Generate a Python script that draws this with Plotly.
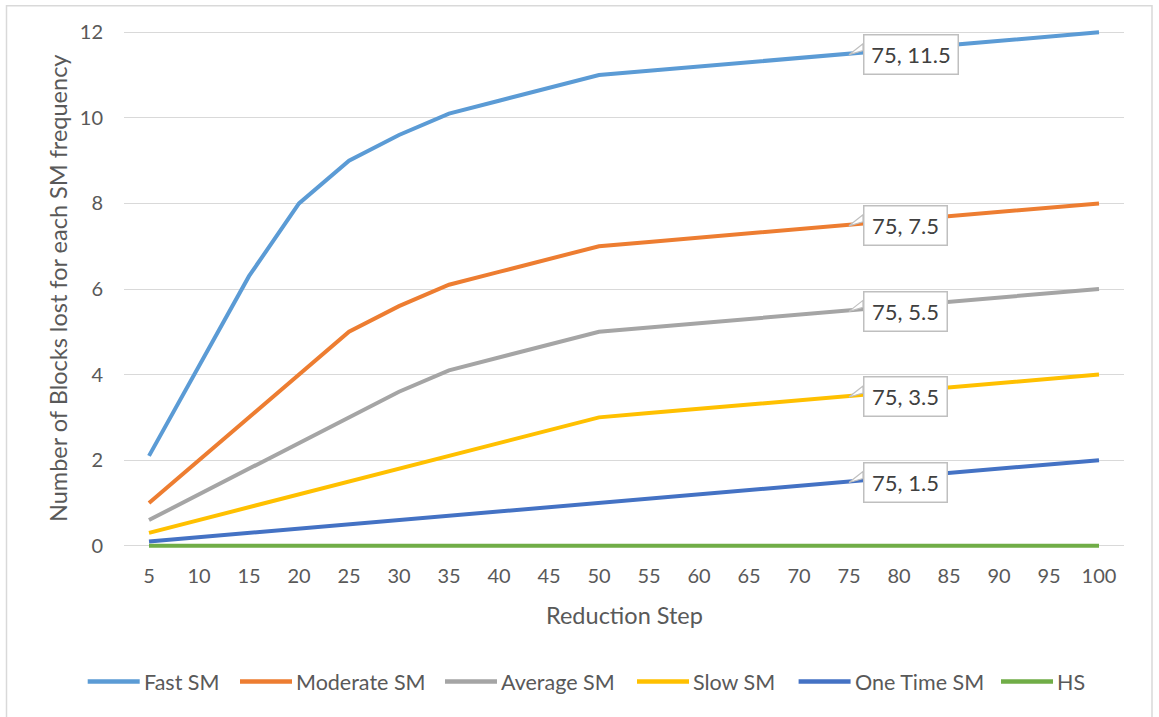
import plotly.graph_objects as go

# Reduction steps on the category axis
steps = [5, 10, 15, 20, 25, 30, 35, 40, 45, 50, 55, 60, 65, 70, 75, 80, 85, 90, 95, 100]

# Blocks lost per SM frequency class
fast_sm = [2.1, 4.2, 6.3, 8.0, 9.0, 9.6, 10.1, 10.4, 10.7, 11.0,
           11.1, 11.2, 11.3, 11.4, 11.5, 11.6, 11.7, 11.8, 11.9, 12.0]
moderate_sm = [1.0, 2.0, 3.0, 4.0, 5.0, 5.6, 6.1, 6.4, 6.7, 7.0,
               7.1, 7.2, 7.3, 7.4, 7.5, 7.6, 7.7, 7.8, 7.9, 8.0]
average_sm = [0.6, 1.2, 1.8, 2.4, 3.0, 3.6, 4.1, 4.4, 4.7, 5.0,
              5.1, 5.2, 5.3, 5.4, 5.5, 5.6, 5.7, 5.8, 5.9, 6.0]
slow_sm = [0.3, 0.6, 0.9, 1.2, 1.5, 1.8, 2.1, 2.4, 2.7, 3.0,
           3.1, 3.2, 3.3, 3.4, 3.5, 3.6, 3.7, 3.8, 3.9, 4.0]
one_time_sm = [0.1, 0.2, 0.3, 0.4, 0.5, 0.6, 0.7, 0.8, 0.9, 1.0,
               1.1, 1.2, 1.3, 1.4, 1.5, 1.6, 1.7, 1.8, 1.9, 2.0]
hs = [0] * 20

series_names = ["Fast SM", "Moderate SM", "Average SM", "Slow SM", "One Time SM", "HS"]
series_values = [fast_sm, moderate_sm, average_sm, slow_sm, one_time_sm, hs]
series_colors = ["#5B9BD5", "#ED7D31", "#A5A5A5", "#FFC000", "#4472C4", "#70AD47"]

# Step whose value is called out on each curve
callout_step = 75
callout_series = ["Fast SM", "Moderate SM", "Average SM", "Slow SM", "One Time SM"]

y_ticks = [0, 2, 4, 6, 8, 10, 12]

FONT = "Lato, 'Open Sans', sans-serif"
TEXT_COLOR = "#595959"
GRID = "#D9D9D9"
CALLOUT_LINE = "#BFBFBF"

W, H = 1159, 717
# Value axis: 0 sits at y=546 px and 12 at y=32 px; a small pad keeps the
# thick lines at 0 and 12 from being clipped by the plot area.
Y_LO, Y_HI = -0.1, 12.1
PX_PER_UNIT = (546 - 32) / 12
PLOT_L, PLOT_R = 124, 1124
PLOT_T = 32 - (Y_HI - 12) * PX_PER_UNIT
PLOT_B = 546 + (0 - Y_LO) * PX_PER_UNIT


def px_x(px):
    return (px - PLOT_L) / (PLOT_R - PLOT_L)


def px_y(py):
    return (PLOT_B - py) / (PLOT_B - PLOT_T)


fig = go.Figure()
for name, vals, color in zip(series_names, series_values, series_colors):
    fig.add_trace(go.Scatter(
        x=steps, y=vals, name=name, mode="lines",
        line=dict(color=color, width=4),
        showlegend=False,
    ))

# Callout boxes with a small wedge pointing at the labelled point
idx = steps.index(callout_step)
for name, vals in zip(series_names, series_values):
    if name not in callout_series:
        continue
    v = vals[idx]
    fig.add_shape(
        type="path", xref="x", yref="y",
        xsizemode="pixel", ysizemode="pixel",
        xanchor=callout_step, yanchor=v,
        path="M0,-1 L14,10 L14,3 Z",
        line=dict(color=CALLOUT_LINE, width=1.2), fillcolor="white",
    )
    text = f"{callout_step}, {v:g}"
    fig.add_annotation(
        x=callout_step, y=v, xref="x", yref="y",
        text=text, showarrow=False,
        xanchor="left", yanchor="middle", xshift=13.5, yshift=-1,
        width=11 * len(text) - 7, height=26, borderpad=6,
        bgcolor="white", bordercolor=CALLOUT_LINE, borderwidth=1.5,
        font=dict(family=FONT, size=22, color="#404040"),
    )

# Axis titles
fig.add_annotation(
    text="Number of Blocks lost for each SM frequency",
    xref="paper", yref="paper", x=px_x(58), y=px_y(289),
    xanchor="center", yanchor="middle", textangle=-90, showarrow=False,
    font=dict(family=FONT, size=23.5, color=TEXT_COLOR),
)
fig.add_annotation(
    text="Reduction Step",
    xref="paper", yref="paper", x=px_x(624), y=px_y(615),
    xanchor="center", yanchor="middle", showarrow=False,
    font=dict(family=FONT, size=23.5, color=TEXT_COLOR),
)

# Legend row along the bottom: sample line followed by the series name
legend_starts = [87.7, 240, 445, 637, 798.6, 1001]
legend_y = px_y(682)
for name, color, x0 in zip(series_names, series_colors, legend_starts):
    fig.add_shape(
        type="line", xref="paper", yref="paper",
        x0=px_x(x0), x1=px_x(x0 + 52), y0=legend_y, y1=legend_y,
        line=dict(color=color, width=4.5),
    )
    fig.add_annotation(
        text=name, xref="paper", yref="paper",
        x=px_x(x0 + 54), y=legend_y, xanchor="left", yanchor="middle",
        showarrow=False,
        font=dict(family=FONT, size=21.5, color=TEXT_COLOR),
    )

# Chart area border
fig.add_shape(
    type="rect", xref="paper", yref="paper",
    x0=px_x(6.5), x1=px_x(1152), y0=px_y(730), y1=px_y(5.5),
    line=dict(color=GRID, width=1.5), fillcolor="rgba(0,0,0,0)", layer="below",
)

fig.update_layout(
    width=W, height=H,
    margin=dict(l=PLOT_L, r=W - PLOT_R, t=PLOT_T, b=H - PLOT_B),
    paper_bgcolor="white", plot_bgcolor="white",
    font=dict(family=FONT, size=20, color=TEXT_COLOR),
    showlegend=False,
    xaxis=dict(
        range=[2.5, 102.5], tickmode="array", tickvals=steps,
        ticktext=[str(s) for s in steps],
        showgrid=False, zeroline=False, showline=False,
        ticks="outside", ticklen=8, tickcolor="rgba(0,0,0,0)",
        tickfont=dict(family=FONT, size=20, color=TEXT_COLOR),
        fixedrange=True,
    ),
    yaxis=dict(
        range=[Y_LO, Y_HI], tickmode="array", tickvals=y_ticks,
        showgrid=True, gridcolor=GRID, gridwidth=1,
        zeroline=False, showline=False,
        ticks="outside", ticklen=16, tickcolor="rgba(0,0,0,0)",
        tickfont=dict(family=FONT, size=20, color=TEXT_COLOR),
        fixedrange=True,
    ),
)

fig.write_html("out.html")
